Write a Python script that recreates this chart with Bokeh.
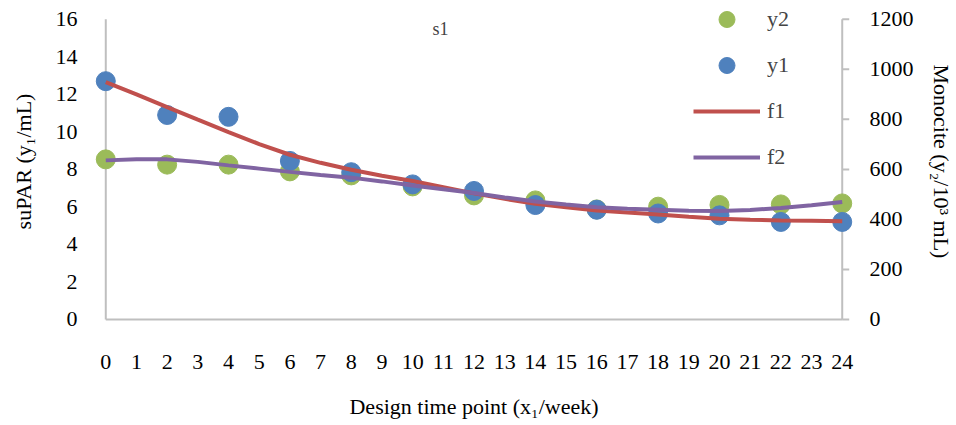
from bokeh.plotting import figure
from bokeh.models import Range1d, LinearAxis, FixedTicker, Legend, LegendItem, Label
from bokeh.embed import file_html
from bokeh.resources import INLINE

# ---- data ----
x_pts = [0, 2, 4, 6, 8, 10, 12, 14, 16, 18, 20, 22, 24]
y1 = [12.7, 10.9, 10.8, 8.45, 7.85, 7.2, 6.85, 6.1, 5.85, 5.65, 5.55, 5.2, 5.2]         # suPAR (left axis)
y2 = [640, 619, 619, 592, 576, 532, 496, 476, 440, 451, 458, 460, 464]                   # Monocite (right axis)

x_fit = list(range(0, 25))
f1 = [12.65, 12.0, 11.32, 10.65, 9.99, 9.35, 8.78, 8.35, 7.98, 7.66, 7.38, 7.05, 6.72,
      6.43, 6.17, 5.98, 5.81, 5.7, 5.6, 5.47, 5.37, 5.31, 5.28, 5.26, 5.24]
f2 = [636, 640, 640, 630, 616, 603, 590, 578, 567, 552, 536, 521, 506,
      488, 472, 460, 449, 443, 439, 435, 434, 438, 446, 457, 470]

x_ticks = list(range(0, 25))
left_ticks = [0, 2, 4, 6, 8, 10, 12, 14, 16]
right_ticks = [0, 200, 400, 600, 800, 1000, 1200]

# ---- styles ----
FONT = "Liberation Serif"
GREY = "#BFBFBF"
BLUE = "#4F81BD"
GREEN = "#9BBB59"
RED = "#C0504D"
PURPLE = "#8064A2"

XPAD = 0.4      # room so that edge markers are not clipped
YPAD = 0.16     # room below the x axis line
YPAD_TOP = 1.0  # room above the plot for the legend's first entry
ratio = right_ticks[-1] / left_ticks[-1]

p = figure(width=956, height=425, output_backend="svg", toolbar_location=None,
           x_range=Range1d(x_ticks[0] - XPAD, x_ticks[-1] + XPAD),
           y_range=Range1d(left_ticks[0] - YPAD, left_ticks[-1] + YPAD_TOP),
           min_border_left=93, min_border_right=99, min_border_top=0, min_border_bottom=103)
p.extra_y_ranges = {"right": Range1d(right_ticks[0] - YPAD * ratio, right_ticks[-1] + YPAD_TOP * ratio)}
p.outline_line_color = None
p.grid.grid_line_color = None
p.background_fill_color = "white"
p.border_fill_color = "white"

# drawn axis lines (at the data extent) and right-axis tick marks
p.line([x_ticks[0], x_ticks[0]], [left_ticks[0], left_ticks[-1]], color=GREY, line_width=2)
p.line([x_ticks[-1], x_ticks[-1]], [left_ticks[0], left_ticks[-1]], color=GREY, line_width=2)
p.line([x_ticks[0], x_ticks[-1]], [left_ticks[0], left_ticks[0]], color=GREY, line_width=2)
p.ray(x=[x_ticks[-1]] * len(right_ticks), y=right_ticks, length=7, length_units="screen",
      angle=0, color=GREY, line_width=2, y_range_name="right")

r_y2 = p.scatter(x_pts, y2, size=19, color=GREEN, y_range_name="right")
r_y1 = p.scatter(x_pts, y1, size=19, color=BLUE)
r_f1 = p.line(x_fit, f1, line_width=4, color=RED)
r_f2 = p.line(x_fit, f2, line_width=4, color=PURPLE, y_range_name="right")

# x axis
xa = p.xaxis[0]
xa.ticker = FixedTicker(ticks=x_ticks)
xa.major_label_standoff = 32
xa.axis_label = "Design time point (x\u2081/week)"
xa.axis_label_standoff = 22

# left axis
ya = p.yaxis[0]
ya.ticker = FixedTicker(ticks=left_ticks)
ya.major_label_standoff = 16
ya.axis_label = "suPAR (y\u2081/mL)"
ya.axis_label_standoff = 17

# right axis
ra = LinearAxis(y_range_name="right", ticker=FixedTicker(ticks=right_ticks))
ra.major_label_standoff = 15
ra.axis_label = "Monocite (y\u2082/10\u00b3 mL)"
ra.axis_label_standoff = 12
p.add_layout(ra, "right")

for ax in (xa, ya, ra):
    ax.axis_line_color = None
    ax.major_tick_line_color = None
    ax.minor_tick_line_color = None
    ax.major_tick_out = 0
    ax.major_tick_in = 0
    ax.major_label_text_font = FONT
    ax.major_label_text_font_size = "22px"
    ax.major_label_text_color = "black"
    ax.axis_label_text_font = FONT
    ax.axis_label_text_font_size = "22px"
    ax.axis_label_text_font_style = "normal"
    ax.axis_label_text_color = "black"

legend = Legend(items=[
    LegendItem(label="y2", renderers=[r_y2]),
    LegendItem(label="y1", renderers=[r_y1]),
    LegendItem(label="f1", renderers=[r_f1]),
    LegendItem(label="f2", renderers=[r_f2]),
], location=(600, 145))
legend.padding = 0
legend.margin = 0
legend.spacing = 6
legend.glyph_width = 67
legend.glyph_height = 40
legend.label_height = 40
legend.label_standoff = 7
legend.label_text_font = FONT
legend.label_text_font_size = "22px"
legend.border_line_alpha = 0
legend.background_fill_alpha = 0
p.add_layout(legend, "center")

title = Label(x=347, y=294, x_units="screen", y_units="screen", text="s1",
              text_font=FONT, text_font_size="18px", text_align="center",
              text_baseline="middle")
p.add_layout(title)

open("out.html", "w").write(file_html(p, INLINE))
